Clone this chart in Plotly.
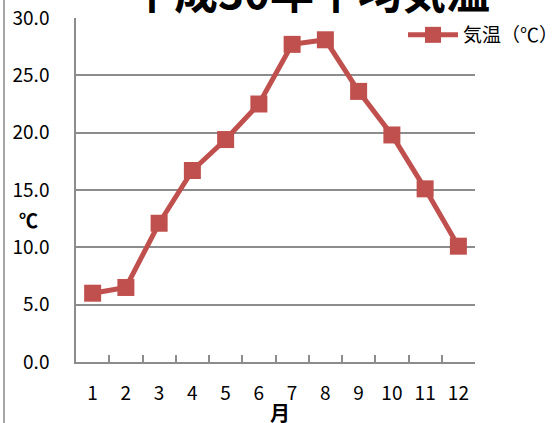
import plotly.graph_objects as go

months = ["1", "2", "3", "4", "5", "6", "7", "8", "9", "10", "11", "12"]
temps = [6.0, 6.5, 12.1, 16.7, 19.4, 22.5, 27.7, 28.1, 23.6, 19.8, 15.1, 10.1]
series_name = "気温（℃）"
title_text = "平成30年平均気温"
x_title = "月"
y_title = "℃"

W, H = 559, 423
L, R, T, B = 76, 84, 18, 61
pw, ph = W - L - R, H - T - B

def px_x(x):
    return (x - L) / pw

def px_y(y):
    return (H - B - y) / ph

FONT = "Noto Sans CJK JP"
RED = "#C0504D"
GRAY = "#8C8C8C"

fig = go.Figure()
fig.add_trace(go.Scatter(
    x=months, y=temps, name=series_name, mode="lines+markers",
    line=dict(color=RED, width=5),
    marker=dict(symbol="square", size=17, color=RED),
    cliponaxis=False,
))

fig.update_layout(
    width=W, height=H,
    margin=dict(l=L, r=R, t=T, b=B, autoexpand=False),
    paper_bgcolor="white", plot_bgcolor="white",
    font=dict(family=FONT, size=19, color="black"),
    showlegend=True,
    legend=dict(x=px_x(403), y=px_y(35), xanchor="left", yanchor="middle",
                itemwidth=50,
                bgcolor="rgba(0,0,0,0)", font=dict(size=19)),
    xaxis=dict(type="category", range=[-0.5, len(months) - 0.5], automargin=False,
               showgrid=False, showline=True,
               linecolor=GRAY, linewidth=1.5, ticks="inside", tickson="boundaries",
               ticklen=7, tickcolor=GRAY, tickwidth=1.5, ticklabelstandoff=13),
    yaxis=dict(range=[0, 30], dtick=5, tickformat=".1f", automargin=False,
               showgrid=True, gridcolor=GRAY, gridwidth=1.5, showline=True,
               linecolor=GRAY, linewidth=1.5, zeroline=False, ticks="",
               ticklabelstandoff=21),
    shapes=[dict(type="line", xref="paper", yref="paper",
                 x0=px_x(4), x1=px_x(4), y0=px_y(0), y1=px_y(H),
                 line=dict(color="#A6A6A6", width=2))],
    annotations=[
        dict(text=f"<b>{title_text}</b>", xref="paper", yref="paper",
             x=px_x(310), y=px_y(-10), xanchor="center", yanchor="middle",
             showarrow=False, font=dict(size=44)),
        dict(text=f"<b>{y_title}</b>", xref="paper", yref="paper",
             x=px_x(28), y=px_y(220), xanchor="center", yanchor="middle",
             showarrow=False, font=dict(size=19)),
        dict(text=f"<b>{x_title}</b>", xref="paper", yref="paper",
             x=px_x(280), y=px_y(412), xanchor="center", yanchor="middle",
             showarrow=False, font=dict(size=20)),
    ],
)

fig.write_html("out.html", config={"displayModeBar": False},
               post_script="document.body.style.margin='0';")
